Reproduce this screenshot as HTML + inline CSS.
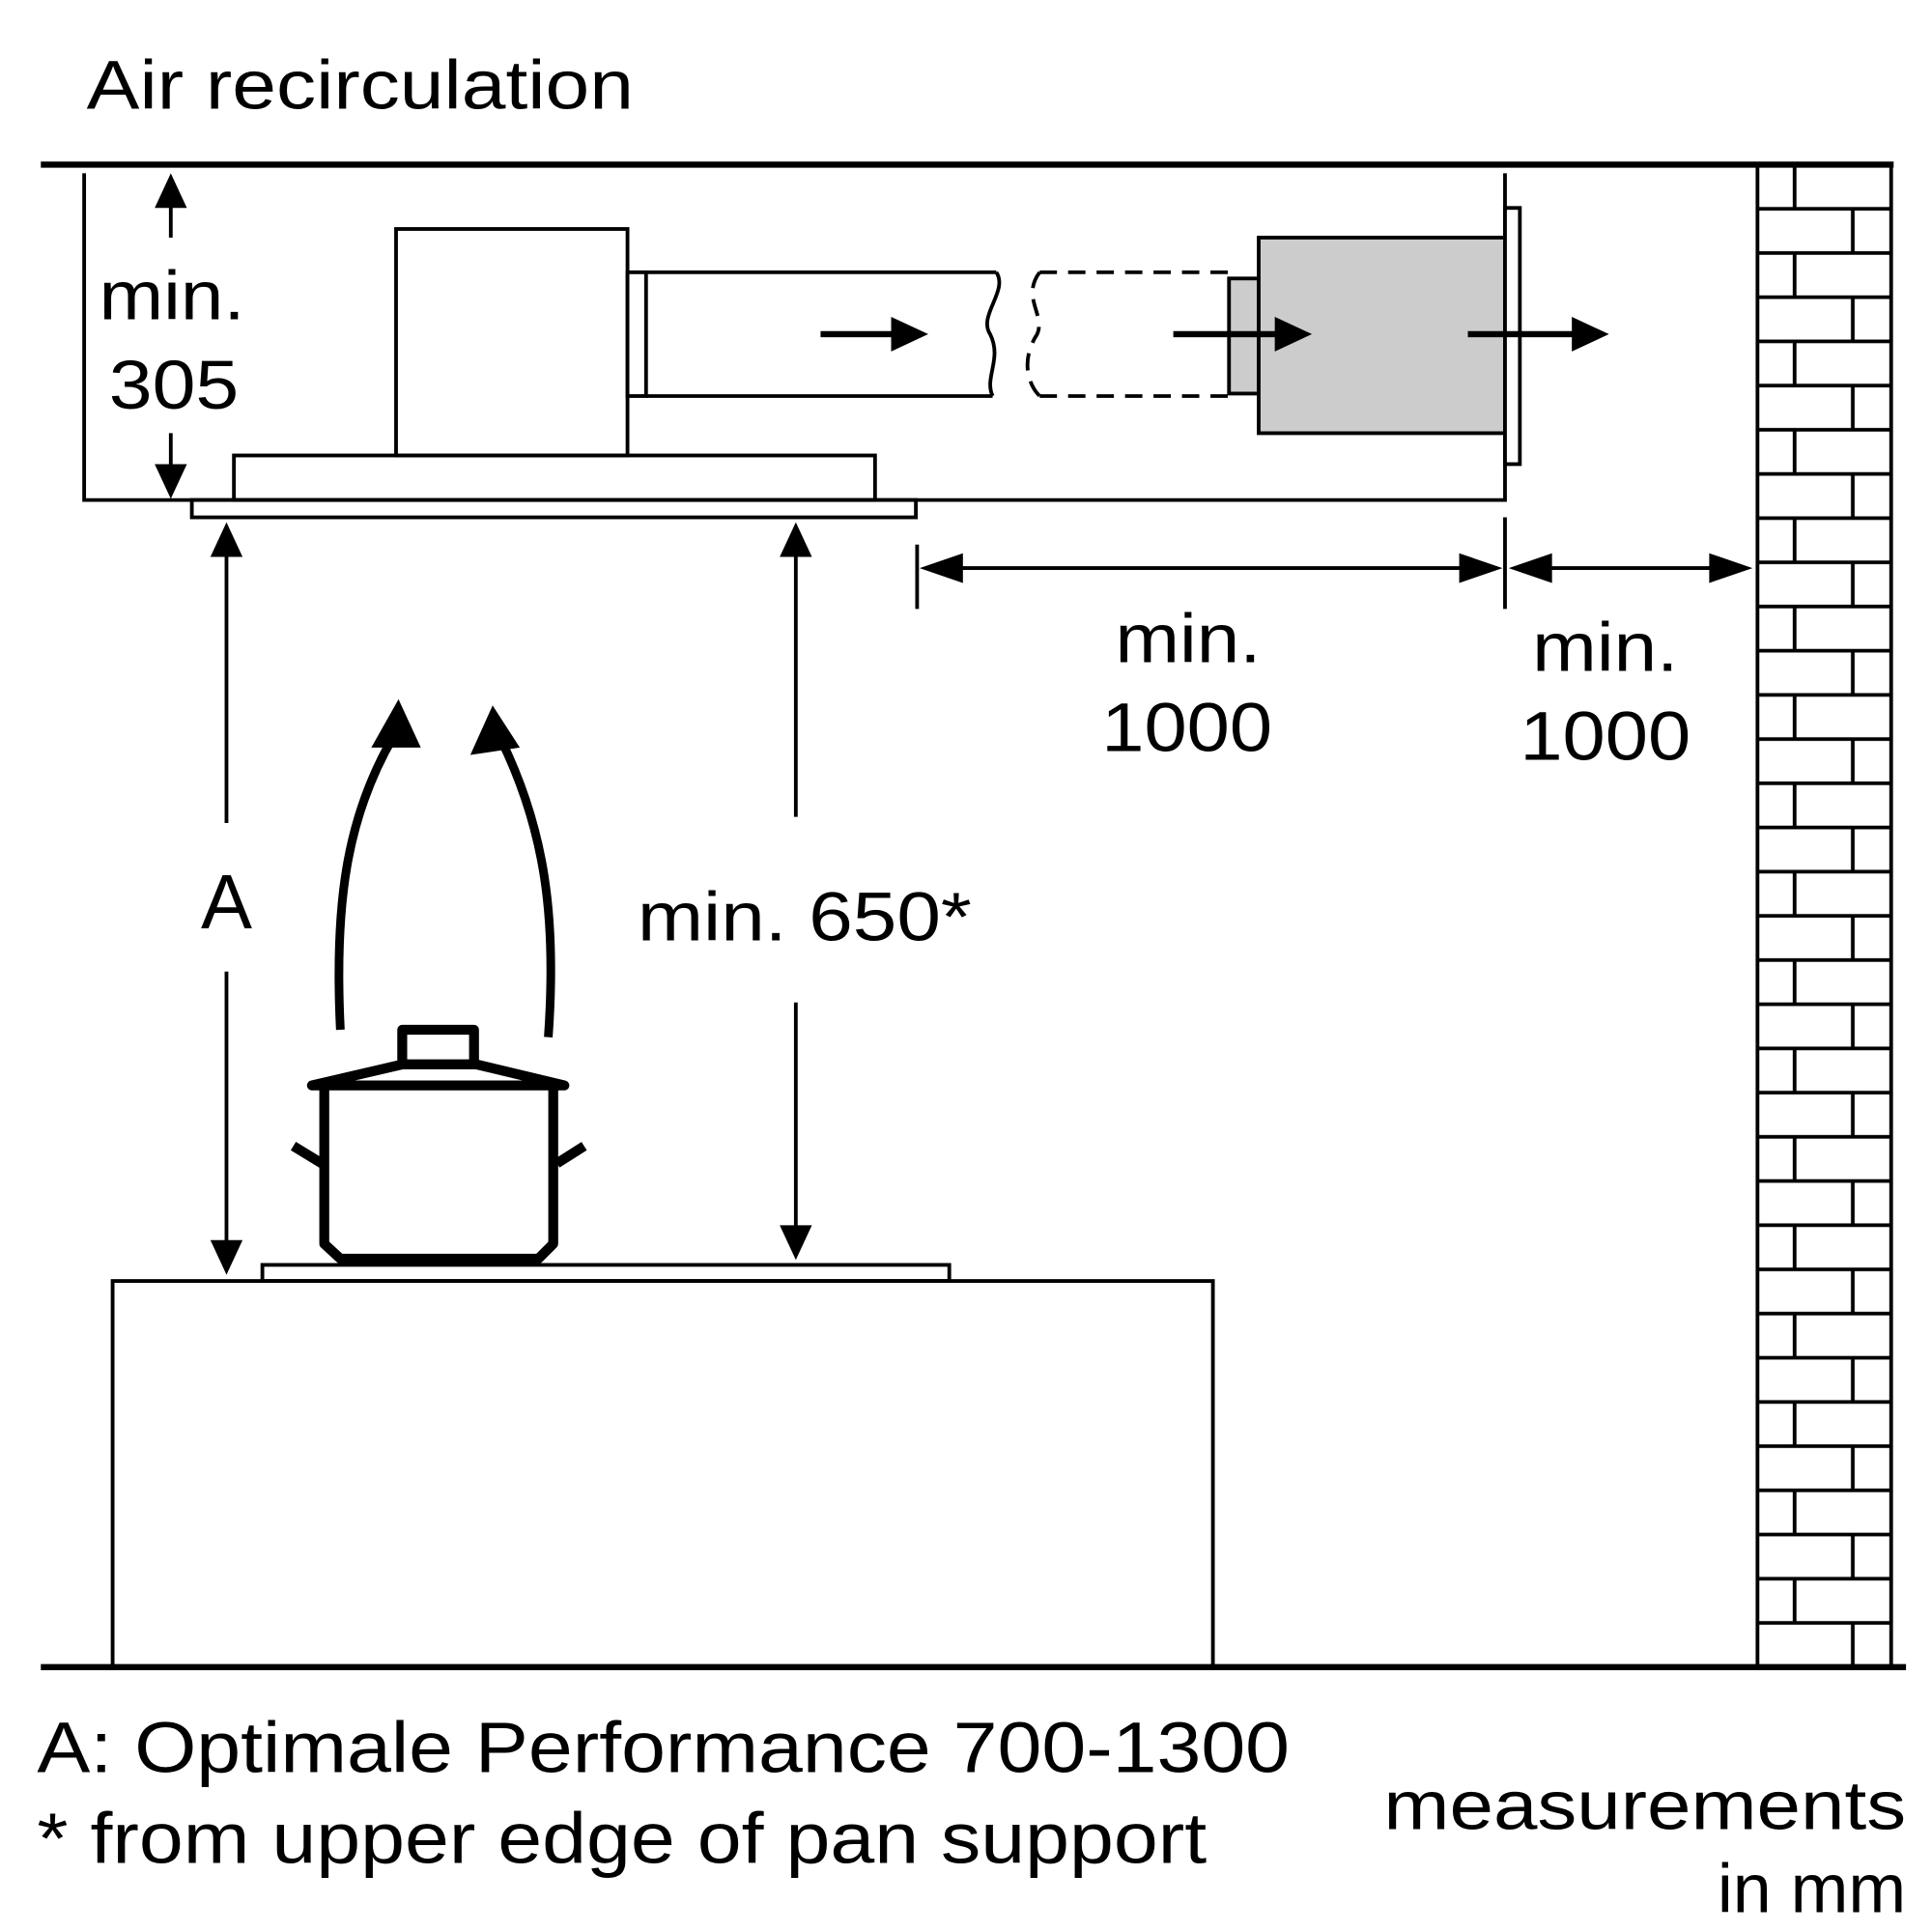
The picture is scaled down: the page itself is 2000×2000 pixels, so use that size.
<!DOCTYPE html>
<html><head><meta charset="utf-8"><style>
html,body{margin:0;padding:0;background:#fff;}
svg{display:block;}
text{font-family:"Liberation Sans",sans-serif;fill:#000;}
</style></head><body>
<svg width="2000" height="2000" viewBox="0 0 1561 1561" xmlns="http://www.w3.org/2000/svg">
<defs>
<pattern id="brick" patternUnits="userSpaceOnUse" x="1420" y="133" width="108" height="71.41">
<g stroke="#000" stroke-width="3" fill="none">
<line x1="0" y1="0" x2="108" y2="0"/>
<line x1="0" y1="71.41" x2="108" y2="71.41"/>
<line x1="0" y1="35.7" x2="108" y2="35.7"/>
<line x1="30" y1="0" x2="30" y2="35.7"/>
<line x1="77" y1="35.7" x2="77" y2="71.41"/>
</g>
</pattern>
</defs>
<rect x="1420" y="133" width="108" height="1214" fill="url(#brick)"/>
<g stroke="#000" fill="none" stroke-width="3">
<line x1="33" y1="133" x2="1530" y2="133" stroke-width="5"/>
<line x1="33" y1="1347" x2="1540" y2="1347" stroke-width="5"/>
<polyline points="68,140 68,404 1216,404 1216,140"/>
<rect x="155" y="404" width="585" height="14"/>
<rect x="189" y="368" width="518" height="36"/>
<rect x="320" y="185" width="187" height="183"/>
<rect x="507" y="220" width="15" height="100"/>
<line x1="522" y1="220" x2="805" y2="220"/>
<line x1="522" y1="320" x2="802" y2="320"/>
<path d="M805,220 C815,235 790,255 800,270 C810,290 795,305 802,320"/>
<g stroke-dasharray="14,9">
<line x1="840" y1="220" x2="995" y2="220"/>
<line x1="840" y1="320" x2="995" y2="320"/>
<path d="M840,220 C825,240 845,255 838,270 C825,290 830,310 840,320"/>
</g>
<rect x="993" y="225" width="24" height="93" fill="#ccc"/>
<rect x="1017" y="192" width="199" height="158" fill="#ccc"/>
<rect x="1216" y="168" width="12" height="207" fill="#fff"/>
<rect x="91" y="1035" width="889" height="312"/>
<rect x="212" y="1022" width="555" height="13"/>
<line x1="138" y1="150" x2="138" y2="192"/>
<line x1="138" y1="350" x2="138" y2="395"/>
<line x1="183" y1="440" x2="183" y2="665"/>
<line x1="183" y1="785" x2="183" y2="1010"/>
<line x1="643" y1="440" x2="643" y2="660"/>
<line x1="643" y1="810" x2="643" y2="1000"/>
<line x1="741" y1="440" x2="741" y2="492"/>
<line x1="1216" y1="418" x2="1216" y2="492"/>
<line x1="760" y1="459" x2="1200" y2="459"/>
<line x1="1235" y1="459" x2="1400" y2="459"/>
<line x1="663" y1="270" x2="730" y2="270" stroke-width="5"/>
<line x1="948" y1="270" x2="1040" y2="270" stroke-width="5"/>
<line x1="1186" y1="270" x2="1280" y2="270" stroke-width="5"/>
<path d="M275,832 C270,730 280,660 318,595" stroke-width="7"/>
<path d="M443,838 C450,740 440,670 405,598" stroke-width="7"/>
<g stroke-width="8" stroke-linejoin="round">
<path d="M252,877 L325,860 L385,860 L456,877 Z"/>
<rect x="325" y="832" width="58" height="28"/>
<path d="M262,880 L262,1005 L275,1017 L435,1017 L447,1005 L447,880"/>
<line x1="237" y1="926" x2="260" y2="940"/>
<line x1="450" y1="940" x2="472" y2="926"/>
</g>
<line x1="1420" y1="133" x2="1420" y2="1347"/>
<line x1="1528" y1="133" x2="1528" y2="1347"/>
</g>
<g fill="#000">
<polygon points="138,140 125,168 151,168"/>
<polygon points="138,403 125,375 151,375"/>
<polygon points="183,422 170,450 196,450"/>
<polygon points="183,1030 170,1002 196,1002"/>
<polygon points="643,422 630,450 656,450"/>
<polygon points="643,1018 630,990 656,990"/>
<polygon points="743,459 778,447 778,471"/>
<polygon points="1214,459 1179,447 1179,471"/>
<polygon points="1219,459 1254,447 1254,471"/>
<polygon points="1416,459 1381,447 1381,471"/>
<polygon points="750,270 720,256 720,284"/>
<polygon points="1060,270 1030,256 1030,284"/>
<polygon points="1300,270 1270,256 1270,284"/>
<polygon points="322,565 300,604 340,604"/>
<polygon points="398,570 380,610 420,604"/>
</g>
<text x="70" y="88" font-size="56" textLength="442" lengthAdjust="spacingAndGlyphs">Air recirculation</text>
<text x="80" y="258" font-size="56" textLength="118" lengthAdjust="spacingAndGlyphs">min.</text>
<text x="88" y="330" font-size="56" textLength="105" lengthAdjust="spacingAndGlyphs">305</text>
<text x="183" y="750" font-size="62" text-anchor="middle">A</text>
<text x="515" y="760" font-size="56" textLength="270" lengthAdjust="spacingAndGlyphs">min. 650*</text>
<text x="901" y="535" font-size="56" textLength="118" lengthAdjust="spacingAndGlyphs">min.</text>
<text x="890" y="607" font-size="56" textLength="138" lengthAdjust="spacingAndGlyphs">1000</text>
<text x="1238" y="542" font-size="56" textLength="118" lengthAdjust="spacingAndGlyphs">min.</text>
<text x="1228" y="614" font-size="56" textLength="138" lengthAdjust="spacingAndGlyphs">1000</text>
<text x="30" y="1432" font-size="58" textLength="1012" lengthAdjust="spacingAndGlyphs">A: Optimale Performance 700-1300</text>
<text x="30" y="1505" font-size="58" textLength="945" lengthAdjust="spacingAndGlyphs">* from upper edge of pan support</text>
<text x="1118" y="1478" font-size="56" textLength="422" lengthAdjust="spacingAndGlyphs">measurements</text>
<text x="1540" y="1545" font-size="56" text-anchor="end">in mm</text>
</svg>
</body></html>
